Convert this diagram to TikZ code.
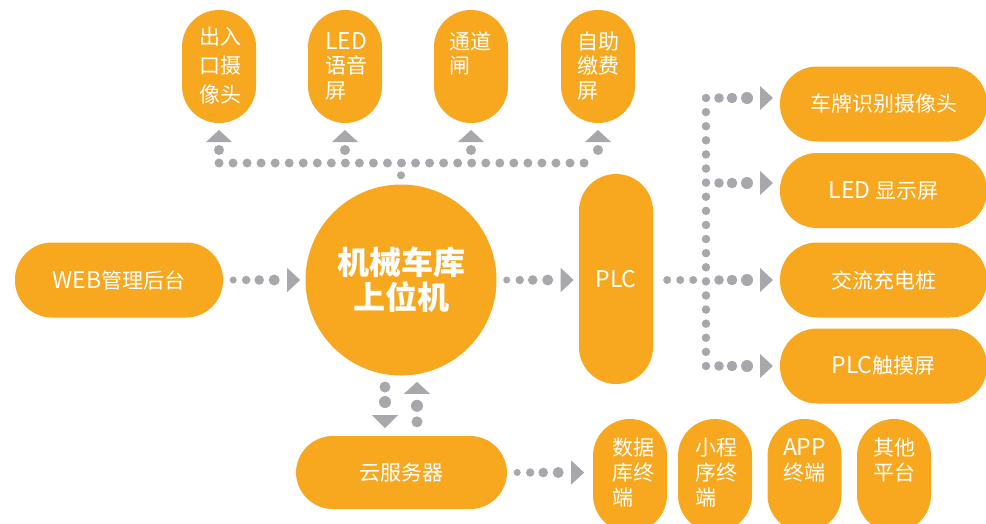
\documentclass[tikz,border=0pt]{standalone}
\usepackage{fontspec}
\newfontfamily\cjk{Noto Sans CJK SC}
\usetikzlibrary{decorations.markings,calc}
\definecolor{orng}{HTML}{F8A81E}
\definecolor{dotgray}{HTML}{A7A8AB}
\newcommand{\latn}[1]{{\fontsize{23}{25}\selectfont #1}}
\begin{document}
\begin{tikzpicture}[x=1pt,y=-1pt,
  box/.style={fill=orng, rectangle, rounded corners=36.9pt, inner sep=0pt, text=white,
              font=\cjk\fontsize{21}{25}\selectfont},
  vbox/.style={box, minimum width=74pt, minimum height=113pt},
  hbox/.style={box, minimum height=75pt},
  lbl/.style={anchor=base west, inner sep=0pt, text=white, font=\cjk\fontsize{21}{24.5}\selectfont},
  gdot/.style 2 args={postaction={decorate,decoration={markings,
      mark=at position #1 with {\fill[dotgray] (0pt,0pt) circle (#2);}}}},
  gtri/.style n args={3}{postaction={decorate,decoration={markings,
      mark=at position #1 with {\fill[dotgray] (0pt,-#2) -- (#3,0pt) -- (0pt,#2) -- cycle;}}}},
  hgrow/.style={gdot={10pt}{3.5pt}, gdot={23pt}{4.2pt}, gdot={36pt}{4.8pt}, gdot={51pt}{5.5pt},
                gtri={64pt}{12pt}{13pt}},
  branchgrow/.style={gdot={13pt}{4.8pt}, gdot={26pt}{5.3pt}, gdot={41pt}{6pt},
                gtri={54pt}{12pt}{13pt}},
  uparr/.style={gdot={13pt}{5pt}, gtri={21pt}{13pt}{12pt}},
  busdots/.style={draw=dotgray, line width=9pt, line cap=round, dash pattern=on 0pt off 14.04pt},
  trunkdots/.style={draw=dotgray, line width=8.5pt, line cap=round, dash pattern=on 0pt off 14.105pt}
]
\useasboundingbox (0,0) rectangle (986,523);

% top boxes
\node[vbox] (b1) at (219,66.5) {};
\node[vbox] (b2) at (345,66.5) {};
\node[vbox] (b3) at (471,66.5) {};
\node[vbox] (b4) at (598,66.5) {};
\node[lbl] (t1) at ($(b1.north west)+(17,35)$) {\parbox[t]{60pt}{\baselineskip=29pt 出入\\口摄\\像头}};
\node[lbl] (t2) at ($(b2.north west)+(17,39.5)$) {\parbox[t]{60pt}{\latn{LED}\\语音\\屏}};
\node[lbl] (t3) at ($(b3.north west)+(15,39.5)$) {\parbox[t]{60pt}{通道\\闸}};
\node[lbl] (t4) at ($(b4.north west)+(16,39.5)$) {\parbox[t]{60pt}{自助\\缴费\\屏}};

% central
\node[circle, fill=orng, minimum size=191pt, inner sep=0pt, text=white, align=center,
      font=\cjk\fontsize{32}{35}\selectfont\bfseries] (top) at (401,280) {机械车库\\上位机};
\node[hbox, minimum width=208pt] (web) at (119,280) {\latn{WEB}管理后台};
\node[box, minimum width=74pt, minimum height=210pt] (plc) at (616,279) {\latn{PLC}};
\node[box, minimum width=211pt, minimum height=73pt] (cloud) at (401.5,472.5) {云服务器};

% right boxes
\node[hbox, minimum width=207pt] (r1) at (883.5,104) {车牌识别摄像头};
\node[hbox, minimum width=207pt] (r2) at (883.5,190.5) {\latn{LED} 显示屏};
\node[hbox, minimum width=207pt] (r3) at (883.5,280) {交流充电桩};
\node[hbox, minimum width=207pt] (r4) at (883.5,366) {\latn{PLC}触摸屏};

% bottom boxes
\node[vbox] (d1) at (630,475.5) {};
\node[vbox] (d2) at (715,475.5) {};
\node[vbox] (d3) at (804.5,475.5) {};
\node[vbox] (d4) at (894,475.5) {};
\node[lbl] (s1) at ($(d1.north west)+(19,37)$) {\parbox[t]{60pt}{\baselineskip=25pt 数据\\库终\\端}};
\node[lbl] (s2) at ($(d2.north west)+(17,37)$) {\parbox[t]{60pt}{\baselineskip=25pt 小程\\序终\\端}};
\node[lbl] (s3) at ($(d3.north west)+(15.5,37)$) {\parbox[t]{60pt}{\baselineskip=25pt \latn{APP}\\终端}};
\node[lbl] (s4) at ($(d4.north west)+(16,37)$) {\parbox[t]{60pt}{\baselineskip=25pt 其他\\平台}};

% coordinates
\coordinate (bus) at (401,163);
\coordinate (j1) at (706,98);
\coordinate (j2) at (706,183);
\coordinate (j3) at (706,280);
\coordinate (j4) at (706,366);
\coordinate (dl) at ($(top.center)+(-16,95)$);
\coordinate (ul) at ($(top.center)+(16,95)$);

% top bus
\draw[busdots] (b1 |- bus) -- (b4 |- bus);
\path[gdot={9pt}{4pt}] (top) -- (bus);
\path[uparr] (b1 |- bus) -- (b1.south);
\path[uparr] (b2 |- bus) -- (b2.south);
\path[uparr] (b3 |- bus) -- (b3.south);
\path[uparr] (b4 |- bus) -- (b4.south);

% horizontal arrows
\path[hgrow] (web) -- (top);
\path[hgrow] (top) -- (plc.west |- top);
\path[hgrow] (cloud) -- (cloud -| d1.west);

% PLC tree
\path[gdot={14pt}{4pt}, gdot={27pt}{4pt}, gdot={40pt}{4pt}] (plc.east |- j3) -- (j3);
\draw[trunkdots] (j1) -- (j4);
\path[branchgrow] (j1) -- (j1 -| r1.west);
\path[branchgrow] (j2) -- (j2 -| r2.west);
\path[branchgrow] (j3) -- (j3 -| r3.west);
\path[branchgrow] (j4) -- (j4 -| r4.west);

% cloud links
\path[gdot={12pt}{5.5pt}, gdot={27pt}{6pt}, gtri={40pt}{13pt}{13pt}] (dl) -- (dl |- cloud.north);
\path[gdot={14pt}{5.5pt}, gdot={30pt}{6pt}, gtri={42pt}{13pt}{12pt}] (ul |- cloud.north) -- (ul);
\end{tikzpicture}
\end{document}
